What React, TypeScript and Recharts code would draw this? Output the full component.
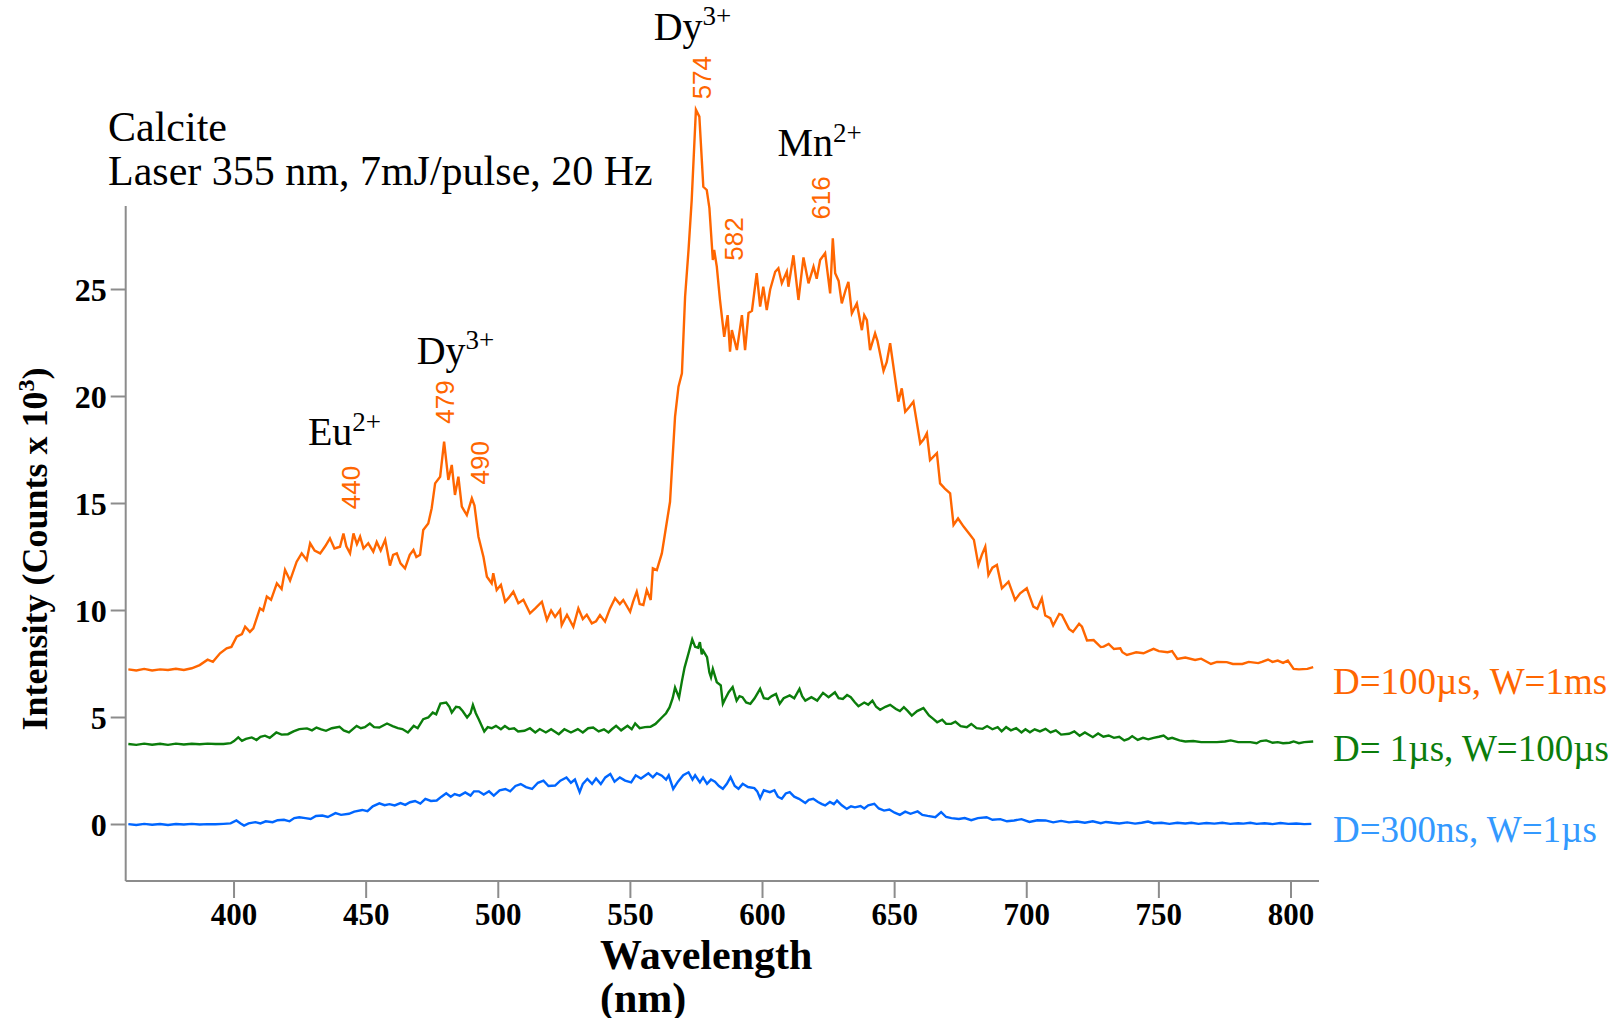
import React from 'react';
import { LineChart, Line, XAxis, YAxis, ReferenceLine, ReferenceDot } from 'recharts';

const W = 1616;
const H = 1018;

const ORANGE = '#ff6600';
const GREEN = '#0b7d0b';
const BLUE = '#0066ff';
const BLUE_TEXT = '#3399ff';
const AXIS = '#8c8c8c';
const SERIF = "'Liberation Serif', 'Times New Roman', serif";
const SANS = "'Liberation Sans', Arial, sans-serif";

const X_MIN = 359;
const X_MAX = 810.6;
const Y_MIN = -2.64;
const Y_MAX = 34;
const Y_AXIS_TOP = 28.9; // the drawn y axis stops below the 574 peak

const xTicks = [400, 450, 500, 550, 600, 650, 700, 750, 800];
const yTicks = [0, 5, 10, 15, 20, 25];

// [wavelength nm, counts x 10^3]
const orangeRaw = [
  [360, 7.25], [363, 7.2], [366, 7.27], [369, 7.2], [372, 7.25], [375, 7.22], [378, 7.28], [381, 7.22], [384, 7.3],
  [387, 7.45], [390, 7.7], [392, 7.6], [394.7, 8.0], [397.2, 8.23], [399, 8.3], [401, 8.78], [403, 8.9], [404.2, 9.24],
  [406, 9.0], [407.3, 9.17], [409.8, 10.1], [411, 10.0], [412.4, 10.65], [414, 10.5], [416.2, 11.27], [418, 11.0],
  [419.3, 11.9], [421.2, 11.4], [423.7, 12.28], [425.6, 12.67], [427.5, 12.36], [428.8, 13.14], [430.5, 12.8],
  [432.6, 12.67], [434.5, 13.0], [436.3, 13.37], [438, 12.9], [440.1, 12.98], [441.4, 13.6], [442.5, 13.0],
  [443.9, 12.67], [445.2, 13.6], [446.5, 13.1], [447.7, 13.45], [449, 12.9], [450.8, 13.14], [452.7, 12.75],
  [454, 13.2], [455.5, 12.8], [457.2, 13.3], [459, 12.1], [460.2, 12.6], [461.6, 12.67], [463, 12.2], [464.7, 11.97],
  [466.5, 12.6], [467.9, 12.83], [469, 12.5], [470.4, 12.6], [471.6, 13.76], [473.5, 14.07], [474.8, 14.78],
  [476.1, 15.94], [478, 16.25], [479.5, 17.89], [481.1, 16.1], [482.4, 16.8], [483.6, 15.4], [484.9, 16.25],
  [486.2, 14.85], [488.1, 14.46], [490, 15.24], [491, 14.9], [492.5, 13.45], [494.4, 12.5], [495.7, 11.58],
  [497.5, 11.27], [498.1, 11.74], [499.4, 10.96], [501, 11.2], [502.6, 10.41], [504, 10.6], [505.7, 10.88],
  [507.6, 10.34], [509.5, 10.5], [512, 9.87], [514, 10.1], [516.5, 10.41], [518.4, 9.56], [520, 10.0], [521.5, 9.7],
  [523.4, 10.02], [524, 9.32], [526, 9.8], [528.4, 9.24], [530.3, 10.1], [532, 9.6], [533.5, 9.8], [535.4, 9.4],
  [537, 9.5], [538.5, 9.79], [540.4, 9.48], [542.3, 10.1], [544.2, 10.57], [546, 10.3], [547.3, 10.49], [549.9, 9.94],
  [551, 10.4], [552.4, 10.88], [553.5, 10.3], [554.9, 10.26], [556.2, 10.96], [557.7, 10.49], [558.5, 11.97],
  [560, 11.89], [561.9, 12.67], [563.1, 13.6], [565, 15.08], [565.7, 16.57], [566.9, 19.06], [568.2, 20.46],
  [569.5, 21.08], [570.7, 24.66], [572, 26.85], [573.2, 29.18], [574.8, 33.4], [576.1, 33.08], [577.6, 29.8],
  [578.9, 29.65], [579.9, 28.8], [581.2, 26.38], [581.7, 26.85], [582.7, 26.07], [583.9, 24.51], [585.5, 22.79],
  [586.8, 23.8], [587.7, 22.1], [588.4, 23.1], [590.3, 22.17], [592.2, 23.8], [593.4, 22.17], [594.7, 23.9],
  [596, 24.0], [597.8, 25.76], [599.1, 24.2], [600.3, 25.13], [601.6, 24.04], [602.9, 25.0], [604.8, 25.83],
  [606, 25.99], [607.3, 25.29], [609.2, 25.83], [609.8, 25.13], [611.7, 26.6], [613.6, 24.51], [615.5, 26.5],
  [617.4, 25.29], [619.3, 26.07], [620.5, 25.5], [621.8, 26.38], [623.7, 26.7], [625.6, 24.82], [626.6, 27.39],
  [627.5, 25.76], [628.8, 25.4], [630, 24.35], [631.5, 25.0], [632.5, 25.36], [633.8, 23.89], [635.7, 24.35],
  [637.6, 23.1], [638.5, 23.8], [639.5, 23.57], [640.7, 22.17], [642.6, 22.95], [643.5, 22.6], [645.8, 21.2],
  [647, 21.6], [648.3, 22.49], [650.8, 20.3], [651.4, 19.76], [652.7, 20.38], [654, 19.29], [655.5, 19.5],
  [657.1, 19.76], [659.7, 17.81], [661, 18.0], [662.2, 18.28], [663.4, 17.03], [666, 17.35], [667.2, 15.94],
  [669, 15.7], [671, 15.48], [672.3, 14.0], [674, 14.3], [676.1, 13.92], [678.6, 13.53], [680, 13.3], [681.7, 12.13],
  [683, 12.6], [684.3, 12.98], [685.5, 11.66], [687, 12.0], [688.7, 12.13], [690.6, 11.04], [693.1, 11.35],
  [695.6, 10.49], [697.5, 10.8], [700, 11.04], [702.5, 10.18], [704, 10.08], [705.7, 10.57], [707, 9.77],
  [708.9, 9.64], [710, 9.3], [712.3, 9.84], [713.3, 9.79], [716, 9.14], [717.5, 9.0], [719.8, 9.38], [720.9, 9.24],
  [722.8, 8.6], [725.3, 8.62], [728, 8.29], [729.1, 8.31], [731, 8.44], [733, 8.2], [735.4, 8.23], [736.2, 8.05],
  [737.9, 7.92], [740, 8.0], [741.4, 8.05], [744.2, 8.0], [746, 8.1], [748, 8.21], [750, 8.1], [753.3, 8.05],
  [755, 8.1], [757, 7.74], [760, 7.8], [763.7, 7.69], [766, 7.75], [769.7, 7.5], [772, 7.6], [775.7, 7.59],
  [778, 7.5], [781.6, 7.5], [784, 7.6], [787.6, 7.54], [789, 7.6], [791.3, 7.71], [793, 7.6], [795, 7.66],
  [797, 7.55], [798.8, 7.66], [801, 7.27], [803, 7.25], [806.2, 7.27], [808.4, 7.35],
];

const greenRaw = [
  [360, 3.76], [363, 3.72], [366, 3.78], [369, 3.73], [372, 3.77], [375, 3.72], [378, 3.78], [381, 3.74], [384, 3.77],
  [387, 3.75], [390, 3.78], [393, 3.76], [396, 3.76], [398.7, 3.8], [400, 3.9], [401.6, 4.07], [403, 3.91],
  [404.5, 4.0], [406.7, 4.07], [408.5, 3.95], [410, 4.1], [411.7, 4.15], [413.5, 4.05], [416, 4.3], [418, 4.2],
  [420.4, 4.22], [422.5, 4.35], [424.7, 4.46], [427.6, 4.49], [429.5, 4.4], [431.2, 4.53], [433, 4.45], [434.8, 4.38],
  [437, 4.5], [439.9, 4.57], [441.5, 4.4], [443.5, 4.3], [446.4, 4.61], [448, 4.5], [449.5, 4.55], [451.4, 4.72],
  [453, 4.55], [455, 4.53], [457.9, 4.72], [460, 4.6], [462, 4.5], [463.7, 4.46], [465.8, 4.3], [468, 4.61],
  [469.5, 4.5], [471.6, 4.92], [473.5, 5.0], [475.2, 5.23], [476.5, 5.15], [478.1, 5.65], [480.3, 5.7], [481.5, 5.5],
  [482.4, 5.23], [484, 5.5], [485.3, 5.47], [486.5, 5.3], [488.2, 5.0], [489.5, 5.2], [490.4, 5.59], [491.5, 5.2],
  [492.6, 4.92], [494.7, 4.35], [496, 4.55], [497.5, 4.5], [499.1, 4.61], [501, 4.45], [502.5, 4.6], [504.1, 4.46],
  [506, 4.5], [507.5, 4.35], [509.9, 4.38], [512, 4.5], [514, 4.3], [515.7, 4.46], [518, 4.3], [520, 4.45],
  [522.9, 4.22], [525, 4.45], [527.5, 4.3], [530.1, 4.46], [532, 4.3], [534, 4.5], [535.9, 4.53], [538, 4.35],
  [540, 4.45], [541.7, 4.3], [543, 4.45], [544.6, 4.61], [546.5, 4.4], [548.9, 4.61], [550.5, 4.45], [551.8, 4.72],
  [553.5, 4.5], [555.5, 4.55], [557.6, 4.57], [559.5, 4.7], [561.9, 5.0], [563.5, 5.2], [564.8, 5.47], [566, 5.9],
  [566.9, 6.4], [568.4, 5.93], [569.5, 6.7], [570.5, 7.33], [572, 8.0], [573.4, 8.65], [574.5, 8.3], [575.6, 8.26],
  [576.3, 8.52], [577, 7.95], [577.5, 8.13], [579, 7.82], [579.9, 7.1], [580.5, 6.88], [581.2, 7.27], [582.7, 6.65],
  [584.2, 6.5], [585, 5.64], [586, 5.9], [587.2, 6.18], [588.7, 6.42], [590.2, 5.79], [591.3, 6.0], [592.4, 5.95],
  [593.8, 5.7], [595.4, 5.64], [597, 5.9], [599.1, 6.34], [600.5, 5.9], [602.1, 5.87], [603.5, 6.0], [605.1, 6.1],
  [606.5, 5.64], [608, 5.9], [610.3, 6.03], [612, 5.9], [614, 6.34], [615, 6.0], [616.2, 5.79], [618.5, 5.95],
  [620.7, 5.79], [622.9, 6.15], [625, 5.95], [627.4, 6.18], [628.8, 5.9], [630.4, 5.87], [632, 6.05], [633.4, 5.95],
  [635, 5.7], [636.3, 5.53], [638.5, 5.7], [640, 5.6], [641.6, 5.79], [643, 5.5], [644.5, 5.36], [646.5, 5.5],
  [648.3, 5.59], [650.5, 5.4], [652, 5.3], [653.5, 5.48], [655, 5.3], [656.5, 5.09], [658.5, 5.3], [660.9, 5.44],
  [663, 5.1], [664.5, 4.95], [666.1, 4.78], [668, 4.9], [669.5, 4.7], [671.4, 4.7], [673, 4.8], [675, 4.6],
  [677.3, 4.55], [679, 4.7], [681, 4.5], [683.3, 4.47], [685, 4.6], [687, 4.45], [689, 4.55], [690.5, 4.35],
  [692.2, 4.55], [694, 4.4], [696, 4.5], [698, 4.3], [699.5, 4.45], [701.2, 4.31], [703, 4.45], [705, 4.35],
  [707.1, 4.47], [709, 4.3], [711, 4.4], [713, 4.2], [716, 4.24], [718, 4.35], [720, 4.15], [722, 4.3], [725, 4.08],
  [727, 4.25], [729, 4.1], [731, 4.16], [733, 4.05], [735, 4.1], [736.9, 3.93], [738.5, 4.0], [739.9, 4.13],
  [742, 3.95], [744, 4.05], [746, 3.98], [748, 4.05], [750, 4.1], [751.8, 4.16], [753.5, 4.0], [755, 4.05],
  [757.8, 3.93], [760, 3.88], [763, 3.9], [766, 3.85], [769.7, 3.85], [772, 3.85], [775, 3.88], [777.2, 3.93],
  [780, 3.85], [782, 3.85], [784.6, 3.85], [787, 3.8], [788.5, 3.9], [790.6, 3.93], [793, 3.82], [795, 3.85],
  [797, 3.8], [799.5, 3.82], [801, 3.88], [803, 3.8], [805, 3.85], [808.4, 3.88],
];

const blueRaw = [
  [360, 0.02], [363, -0.02], [366, 0.03], [369, -0.01], [372, 0.02], [375, -0.02], [378, 0.02], [381, 0.0],
  [384, 0.03], [387, 0.0], [390, 0.02], [393, 0.01], [396, 0.03], [398.7, 0.05], [400.9, 0.19], [402.5, 0.05],
  [403.8, -0.05], [405.5, 0.05], [408.1, 0.11], [410, 0.05], [412, 0.15], [414.6, 0.11], [416.5, 0.2], [418.9, 0.22],
  [421, 0.15], [422.8, 0.3], [424.7, 0.34], [427, 0.3], [429, 0.26], [431, 0.4], [433.4, 0.42], [435.5, 0.35],
  [438.4, 0.53], [440.5, 0.45], [443.5, 0.5], [445.5, 0.6], [448.5, 0.68], [450.5, 0.62], [452.5, 0.85], [455, 0.99],
  [457, 0.9], [458.8, 0.95], [460.8, 0.89], [463, 1.0], [464.8, 0.92], [466.6, 1.04], [468.5, 1.1], [470.5, 0.98],
  [472.4, 1.2], [474.5, 1.1], [476.7, 1.12], [478.5, 1.3], [480.3, 1.46], [482, 1.3], [483.5, 1.42], [485.4, 1.35],
  [487.5, 1.5], [489.5, 1.35], [490.8, 1.55], [492.6, 1.55], [494.5, 1.4], [496.5, 1.55], [498.3, 1.35], [500.5, 1.6],
  [502.7, 1.66], [504.5, 1.55], [506.5, 1.8], [508.5, 1.89], [510.5, 1.75], [512.8, 1.66], [515, 1.95], [517.1, 2.05],
  [519, 1.8], [521.5, 1.82], [523.5, 2.05], [525.8, 2.2], [527.5, 1.95], [529, 2.1], [530.8, 1.51], [532, 1.9],
  [533.7, 2.13], [535.5, 1.9], [537, 2.15], [538.8, 1.89], [540.5, 2.2], [542.4, 2.36], [544, 2.0], [546, 2.2],
  [548, 2.05], [550.3, 1.97], [552, 2.3], [554, 2.15], [556.8, 2.39], [558.5, 2.2], [560, 2.4], [561.9, 2.28],
  [563.5, 2.1], [564.5, 2.3], [566.2, 1.66], [568, 2.0], [570, 2.3], [572, 2.44], [573.5, 2.1], [574.5, 2.3],
  [576.3, 1.97], [577.5, 2.2], [579, 1.9], [580.5, 2.1], [582, 2.0], [583.5, 1.8], [585, 1.67], [586.5, 1.9],
  [587.9, 2.21], [589.5, 1.8], [590.9, 1.67], [592.5, 1.9], [594.5, 1.75], [596.9, 1.7], [598, 1.55], [599.1, 1.23],
  [600.5, 1.6], [602.8, 1.51], [604.5, 1.6], [605.8, 1.3], [607.3, 1.2], [608.8, 1.45], [610.3, 1.51], [612, 1.3],
  [613.8, 1.2], [616.2, 1.01], [617.5, 1.15], [619.2, 1.2], [621, 1.05], [622.5, 0.95], [623.7, 0.89], [625.5, 1.05],
  [627, 0.95], [628.2, 1.12], [630, 0.9], [631.9, 0.73], [633.5, 0.85], [635, 0.8], [637.1, 0.86], [638.5, 0.75],
  [640, 0.9], [642.3, 0.97], [644, 0.75], [646, 0.65], [648, 0.7], [650, 0.55], [652, 0.45], [654, 0.6], [656, 0.5],
  [658.7, 0.61], [660.5, 0.45], [662.5, 0.4], [665.4, 0.34], [667.6, 0.58], [669.5, 0.35], [671.5, 0.3],
  [674.3, 0.26], [676.5, 0.3], [679, 0.2], [681.5, 0.3], [684.8, 0.34], [687, 0.22], [690, 0.25], [692.5, 0.15],
  [695.2, 0.19], [698, 0.25], [701, 0.12], [704, 0.2], [707.1, 0.19], [710, 0.1], [713, 0.17], [716, 0.1],
  [719, 0.14], [722, 0.08], [725, 0.15], [728, 0.06], [730, 0.12], [732.5, 0.08], [735, 0.05], [738, 0.1],
  [741, 0.04], [743.5, 0.08], [745.9, 0.14], [748, 0.06], [751, 0.08], [754, 0.03], [757, 0.08], [760, 0.05],
  [762.3, 0.08], [765, 0.03], [768, 0.07], [771, 0.04], [774, 0.08], [777, 0.03], [780, 0.06], [782, 0.04],
  [784.6, 0.08], [787, 0.03], [790, 0.06], [793, 0.02], [796, 0.07], [799, 0.03], [802, 0.05], [805, 0.02],
  [807.7, 0.03],
];

// peak wavelengths written beside the orange trace (placed in data coords)
const peakLabels = [
  { nm: 444.3, y: 15.75, text: '440' },
  { nm: 479.9, y: 19.74, text: '479' },
  { nm: 493.2, y: 16.9, text: '490' },
  { nm: 577.1, y: 34.9, text: '574' },
  { nm: 589.2, y: 27.36, text: '582' },
  { nm: 622.3, y: 29.28, text: '616' },
];

const ionLabels = [
  { nm: 441.8, y: 18.35, base: 'Eu', sup: '2+' },
  { nm: 483.8, y: 22.15, base: 'Dy', sup: '3+' },
  { nm: 573.5, y: 37.3, base: 'Dy', sup: '3+' },
  { nm: 621.6, y: 31.85, base: 'Mn', sup: '2+' },
];

const seriesNames = ['D=100µs, W=1ms', 'D= 1µs, W=100µs', 'D=300ns, W=1µs'];
const seriesNameY = [6.7, 3.57, -0.24];

const toPoints = (rows: number[][]) => rows.map(([nm, v]) => ({ nm, v }));

const orange = toPoints(orangeRaw);
const green = toPoints(greenRaw);
const blue = toPoints(blueRaw);

const series = [
  { key: 'orange', data: orange, color: ORANGE, text: ORANGE },
  { key: 'green', data: green, color: GREEN, text: GREEN },
  { key: 'blue', data: blue, color: BLUE, text: BLUE_TEXT },
];

const PeakText = ({ cx, cy, text }: any) => (
  <text
    x={cx}
    y={cy}
    transform={`rotate(-90 ${cx} ${cy})`}
    textAnchor="middle"
    dominantBaseline="central"
    fill={ORANGE}
    fontFamily={SANS}
    fontSize={26}
  >
    {text}
  </text>
);

const IonText = ({ cx, cy, base, sup }: any) => (
  <text x={cx} y={cy} textAnchor="middle" dominantBaseline="central" fill="#000" fontFamily={SERIF} fontSize={40}>
    {base}
    <tspan fontSize={27} dy={-10}>{sup}</tspan>
  </text>
);

const SeriesText = ({ cx, cy, text, color }: any) => (
  <text x={cx + 14} y={cy} dominantBaseline="central" fill={color} fontFamily={SERIF} fontSize={37}>
    {text}
  </text>
);

export default function App() {
  return (
    <div style={{ position: 'absolute', left: 0, top: 0, width: W, height: H, background: '#fff' }}>
      <LineChart width={W} height={H} margin={{ top: 96.9, right: 297, bottom: 77, left: 25.7 }}>
        <XAxis
          type="number"
          dataKey="nm"
          domain={[X_MIN, X_MAX]}
          allowDataOverflow
          ticks={xTicks}
          height={60}
          stroke={AXIS}
          strokeWidth={2}
          tickSize={17}
          tickMargin={5}
          tick={{ fill: '#000', fontSize: 31, fontWeight: 'bold', fontFamily: SERIF }}
        />
        <YAxis
          type="number"
          domain={[Y_MIN, Y_MAX]}
          allowDataOverflow
          ticks={yTicks}
          width={100}
          axisLine={false}
          stroke={AXIS}
          tickLine={{ stroke: AXIS, strokeWidth: 2 }}
          tickSize={15}
          tickMargin={4}
          tick={{ fill: '#000', fontSize: 32, fontWeight: 'bold', fontFamily: SERIF }}
        />
        <ReferenceLine
          segment={[{ x: X_MIN, y: Y_MIN }, { x: X_MIN, y: Y_AXIS_TOP }]}
          stroke={AXIS}
          strokeWidth={2}
        />
        {series.map((s) => (
          <Line
            key={s.key}
            data={s.data}
            dataKey="v"
            type="linear"
            stroke={s.color}
            strokeWidth={2.4}
            dot={false}
            isAnimationActive={false}
          />
        ))}
        {peakLabels.map((p) => (
          <ReferenceDot
            key={'p' + p.text + p.nm}
            x={p.nm}
            y={p.y}
            r={1}
            ifOverflow="visible"
            shape={(props: any) => <PeakText {...props} text={p.text} />}
          />
        ))}
        {ionLabels.map((p, i) => (
          <ReferenceDot
            key={'ion' + i}
            x={p.nm}
            y={p.y}
            r={1}
            ifOverflow="visible"
            shape={(props: any) => <IonText {...props} base={p.base} sup={p.sup} />}
          />
        ))}
        {series.map((s, i) => (
          <ReferenceDot
            key={'name' + s.key}
            x={X_MAX}
            y={seriesNameY[i]}
            r={1}
            ifOverflow="visible"
            shape={(props: any) => <SeriesText {...props} text={seriesNames[i]} color={s.text} />}
          />
        ))}
      </LineChart>

      <div
        style={{
          position: 'absolute',
          left: 108,
          top: 105,
          fontFamily: SERIF,
          fontSize: 42,
          lineHeight: '44px',
          color: '#000',
          whiteSpace: 'nowrap',
        }}
      >
        <div>Calcite</div>
        <div>Laser 355 nm, 7mJ/pulse, 20 Hz</div>
      </div>

      <div
        style={{
          position: 'absolute',
          left: 34,
          top: 549,
          transform: 'translate(-50%, -50%) rotate(-90deg)',
          fontFamily: SERIF,
          fontWeight: 'bold',
          fontSize: 36,
          whiteSpace: 'nowrap',
          color: '#000',
        }}
      >
        Intensity (Counts x 10<sup style={{ fontSize: 24 }}>3</sup>)
      </div>

      <div
        style={{
          position: 'absolute',
          left: 600,
          top: 934,
          fontFamily: SERIF,
          fontWeight: 'bold',
          fontSize: 42,
          lineHeight: '43px',
          color: '#000',
          whiteSpace: 'nowrap',
        }}
      >
        <div>Wavelength</div>
        <div>(nm)</div>
      </div>
    </div>
  );
}
